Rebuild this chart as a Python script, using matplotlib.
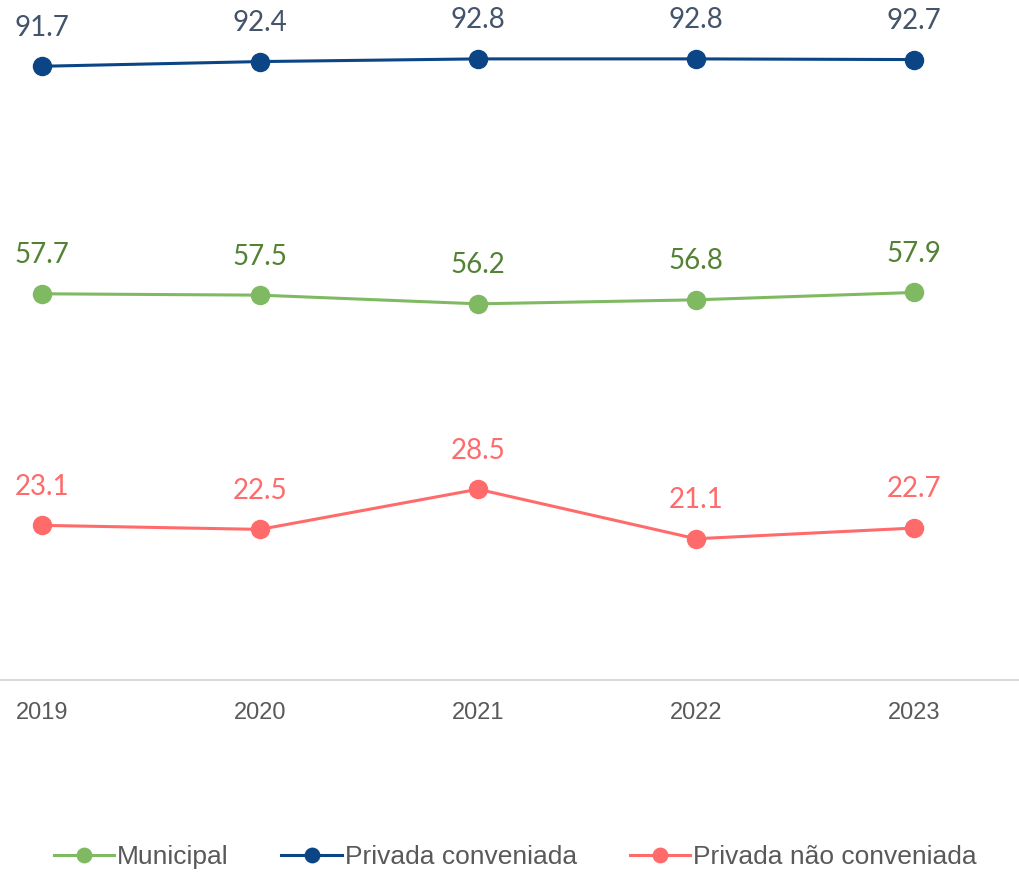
import matplotlib
matplotlib.use("Agg")
import matplotlib.pyplot as plt

years = ["2019", "2020", "2021", "2022", "2023"]
municipal = [57.7, 57.5, 56.2, 56.8, 57.9]
privada_conv = [91.7, 92.4, 92.8, 92.8, 92.7]
privada_nao_conv = [23.1, 22.5, 28.5, 21.1, 22.7]

series_names = ["Municipal", "Privada conveniada", "Privada não conveniada"]
line_colors = ["#7FBA62", "#0B4585", "#FF6B6B"]
label_colors = ["#548235", "#44546A", "#FF6B6B"]

fig = plt.figure(figsize=(10.2, 8.75), dpi=100)
ax = fig.add_axes([0, 0.2229, 1, 0.7771])

x = list(range(len(years)))
handles = []
for vals, name, lc, tc in zip([municipal, privada_conv, privada_nao_conv],
                              series_names, line_colors, label_colors):
    h, = ax.plot(x, vals, color=lc, lw=2.2, marker="o", markersize=13,
                 label=name, zorder=3)
    handles.append(h)
    # value labels above each point
    for xi, v in zip(x, vals):
        ax.annotate(f"{v:.1f}", (xi, v), xytext=(0, 22), textcoords="offset points",
                    ha="center", va="baseline", fontsize=20, color=tc,
                    family="Lato")

ax.set_xlim(-0.193, 4.486)
ax.set_ylim(0, 101.6)
ax.set_xticks(x)
ax.set_xticklabels(years, family="Liberation Sans", fontsize=17, color="#595959")
ax.tick_params(axis="x", length=0, pad=16)
ax.set_yticks([])
for s in ["top", "right", "left"]:
    ax.spines[s].set_visible(False)
ax.spines["bottom"].set_color("#D9D9D9")
ax.spines["bottom"].set_linewidth(1.5)

fig.legend(handles=handles, loc="lower center", bbox_to_anchor=(0.505, -0.02),
           ncol=3, frameon=False, handlelength=2.3, handletextpad=0.1,
           columnspacing=2.0, prop={"family": "Liberation Sans", "size": 19},
           labelcolor="#595959", markerscale=0.8)

fig.savefig("out.png", dpi=100)
